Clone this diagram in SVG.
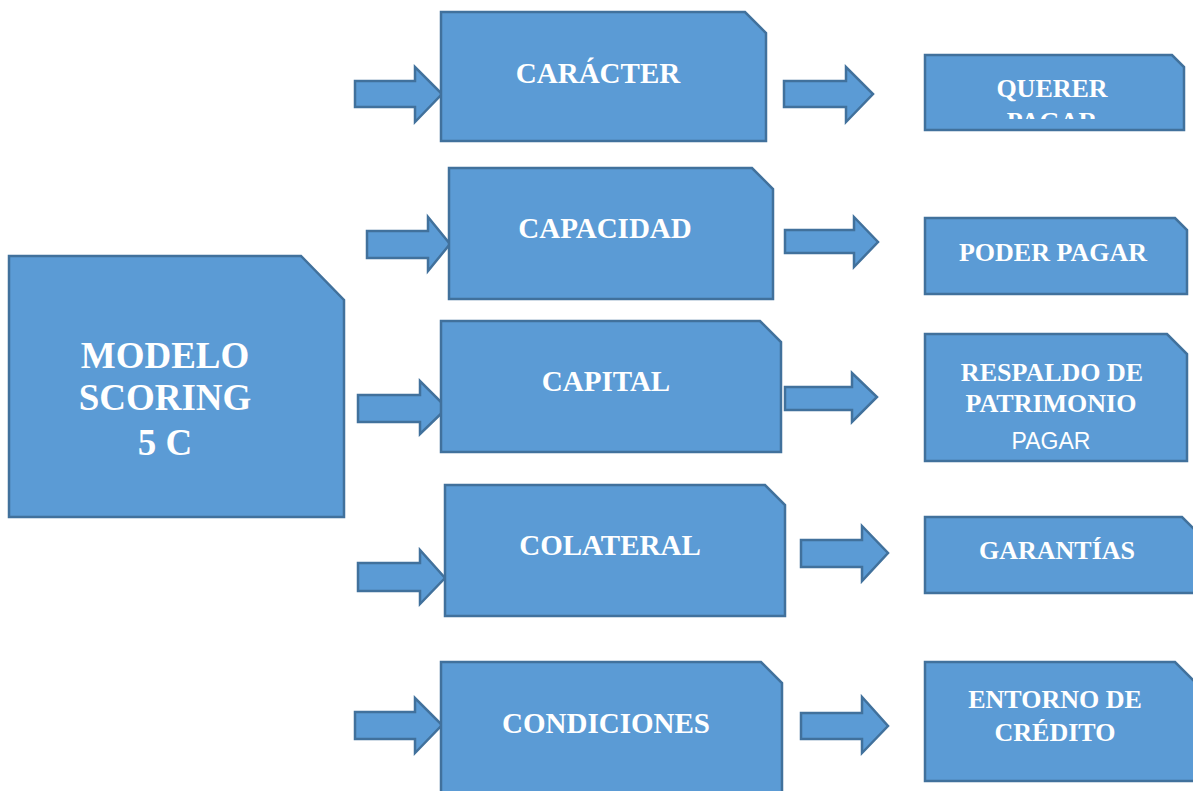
<svg xmlns="http://www.w3.org/2000/svg" width="1193" height="791" viewBox="0 0 1193 791">
<style>
.box{fill:#5B9BD5;stroke:#41719C;stroke-width:2.5;stroke-linejoin:miter}
.arr{fill:#5B9BD5;stroke:#41719C;stroke-width:2.5;stroke-linejoin:miter}
.t{fill:#FFFFFF;font-family:"Liberation Serif","Times New Roman",serif;font-weight:bold;text-anchor:middle}
.big{font-size:37px}
.mid{font-size:29px}
.sm{font-size:26px}
.sans{fill:#FFFFFF;font-family:"Liberation Sans",Arial,sans-serif;font-size:23px;text-anchor:middle}
</style>
<defs>
<clipPath id="clipQ"><rect x="925" y="55" width="260" height="64"/></clipPath>
</defs>
<rect width="1193" height="791" fill="#FFFFFF"/>

<g id="connectors">
<polygon class="arr" points="355,81 415,81 415,67 442,94 415,122 415,107 355,107"/>
<polygon class="arr" points="367,231 428,231 428,217 450,244 428,271 428,258 367,258"/>
<polygon class="arr" points="358,395 420,395 420,381 447,408 420,434 420,422 358,422"/>
<polygon class="arr" points="358,563 420,563 420,550 445,578 420,604 420,591 358,591"/>
<polygon class="arr" points="355,712 415,712 415,698 442,725 415,753 415,739 355,739"/>
<polygon class="arr" points="784,81 846,81 846,67 873,94 846,122 846,107 784,107"/>
<polygon class="arr" points="785,230 854,230 854,217 878,242 854,267 854,253 785,253"/>
<polygon class="arr" points="785,387 852,387 852,373 877,397 852,422 852,410 785,410"/>
<polygon class="arr" points="801,540 862,540 862,526 888,553 862,581 862,567 801,567"/>
<polygon class="arr" points="801,713 862,713 862,697 888,726 862,753 862,739 801,739"/>
</g>

<g id="modelo">
<polygon class="box" points="9,256 301,256 344,300 344,517 9,517"/>
<text class="t big" x="165" y="368">MODELO</text>
<text class="t big" x="165" y="410">SCORING</text>
<text class="t big" x="165" y="455">5 C</text>
</g>

<g id="caracter">
<polygon class="box" points="441,12 745,12 766,33 766,141 441,141"/>
<text class="t mid" x="598" y="83">CARÁCTER</text>
</g>

<g id="capacidad">
<polygon class="box" points="449,168 752,168 773,189 773,299 449,299"/>
<text class="t mid" x="605" y="238">CAPACIDAD</text>
</g>

<g id="capital">
<polygon class="box" points="441,321 760,321 781,342 781,452 441,452"/>
<text class="t mid" x="606" y="391">CAPITAL</text>
</g>

<g id="colateral">
<polygon class="box" points="445,485 765,485 785,505 785,616 445,616"/>
<text class="t mid" x="610" y="555">COLATERAL</text>
</g>

<g id="condiciones">
<polygon class="box" points="441,662 761,662 782,683 782,800 441,800"/>
<text class="t mid" x="606" y="733">CONDICIONES</text>
</g>

<g id="querer">
<polygon class="box" points="925,55 1172,55 1184,67 1184,130 925,130"/>
<g clip-path="url(#clipQ)">
<text class="t sm" x="1052" y="97">QUERER</text>
<text class="t sm" x="1052" y="130">PAGAR</text>
</g>
</g>

<g id="poder">
<polygon class="box" points="925,218 1175,218 1187,230 1187,294 925,294"/>
<text class="t sm" x="1053" y="261">PODER PAGAR</text>
</g>

<g id="respaldo">
<polygon class="box" points="925,334 1167,334 1187,354 1187,461 925,461"/>
<text class="t sm" x="1052" y="381">RESPALDO DE</text>
<text class="t sm" x="1051" y="412">PATRIMONIO</text>
<text class="sans" x="1051" y="449">PAGAR</text>
</g>

<g id="garantias">
<polygon class="box" points="925,517 1182,517 1196,531 1196,593 925,593"/>
<text class="t sm" x="1057" y="559">GARANTÍAS</text>
</g>

<g id="entorno">
<polygon class="box" points="925,662 1175,662 1196,683 1196,781 925,781"/>
<text class="t sm" x="1055" y="708">ENTORNO DE</text>
<text class="t sm" x="1055" y="741">CRÉDITO</text>
</g>
</svg>
